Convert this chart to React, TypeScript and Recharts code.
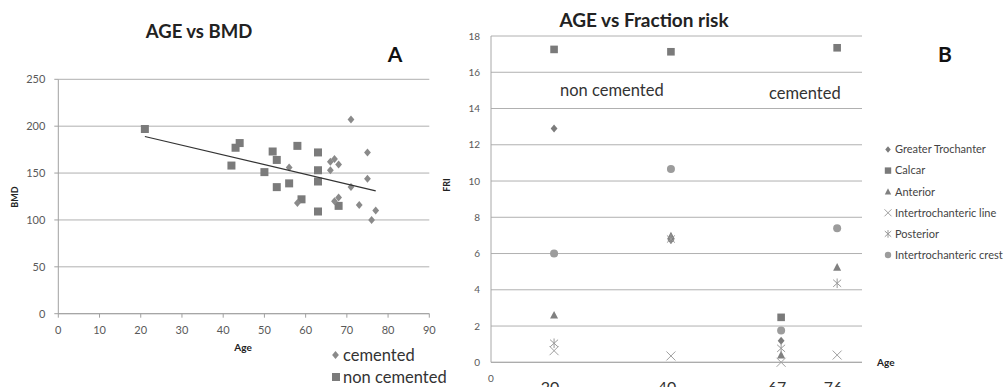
import React from 'react';
import { ScatterChart, Scatter, XAxis, YAxis, CartesianGrid } from 'recharts';

// ---- Chart A: AGE vs BMD ----
const cementedAge = [71, 75, 75, 56, 66, 67, 68, 66, 71, 58, 67, 68, 73, 77, 76];
const cementedBmd = [207, 172, 144, 156, 162, 165, 159, 153, 135, 118, 120, 124, 116, 110, 100];
const nonCementedAge = [21, 42, 43, 44, 50, 52, 53, 53, 56, 58, 59, 63, 63, 63, 63, 68];
const nonCementedBmd = [197, 158, 177, 182, 151, 173, 164, 135, 139, 179, 122, 172, 153, 141, 109, 115];
const trendAge = [21, 77];
const trendBmd = [189, 131];
const bmdXTicks = [0, 10, 20, 30, 40, 50, 60, 70, 80, 90];
const bmdYTicks = [0, 50, 100, 150, 200, 250];
const bmdLegend = ['cemented', 'non cemented'];

// ---- Chart B: AGE vs Fraction risk ----
const friAgeLabels = ['20', '40', '67', '76'];
const friAgeX = [17, 48.5, 78.2, 93.3];
const friYTicks = [0, 2, 4, 6, 8, 10, 12, 14, 16, 18];
const greaterTrochanter = [12.9, 6.75, 1.19, null];
const calcar = [17.26, 17.13, 2.48, 17.35];
const anterior = [2.6, 6.97, 0.4, 5.24];
const intertrochantericLine = [0.64, 0.35, 0.0, 0.4];
const posterior = [1.05, 6.8, 0.77, 4.36];
const intertrochantericCrest = [6.0, 10.66, 1.76, 7.39];
const friSeriesNames = [
  'Greater Trochanter',
  'Calcar',
  'Anterior',
  'Intertrochanteric line',
  'Posterior',
  'Intertrochanteric crest',
];

const FONT = 'Lato, "Open Sans", sans-serif';

type Kind = 'diamond' | 'square' | 'triangle' | 'x' | 'asterisk' | 'circle';

function marker(kind: Kind, cx: number, cy: number, color: string, r: number, key?: string) {
  switch (kind) {
    case 'diamond':
      return (
        <path key={key} d={`M${cx},${cy - r}L${cx + r * 0.85},${cy}L${cx},${cy + r}L${cx - r * 0.85},${cy}Z`} fill={color} />
      );
    case 'square':
      return <rect key={key} x={cx - r} y={cy - r} width={2 * r} height={2 * r} fill={color} />;
    case 'triangle':
      return <path key={key} d={`M${cx},${cy - r * 1.05}L${cx + r},${cy + r * 0.85}L${cx - r},${cy + r * 0.85}Z`} fill={color} />;
    case 'circle':
      return <circle key={key} cx={cx} cy={cy} r={r} fill={color} />;
    case 'x':
      return (
        <g key={key} stroke={color} strokeWidth={1}>
          <line x1={cx - r} y1={cy - r} x2={cx + r} y2={cy + r} />
          <line x1={cx - r} y1={cy + r} x2={cx + r} y2={cy - r} />
        </g>
      );
    case 'asterisk':
      return (
        <g key={key} stroke={color} strokeWidth={1}>
          <line x1={cx - r} y1={cy - r * 0.9} x2={cx + r} y2={cy + r * 0.9} />
          <line x1={cx - r} y1={cy + r * 0.9} x2={cx + r} y2={cy - r * 0.9} />
          <line x1={cx} y1={cy - r * 1.2} x2={cx} y2={cy + r * 1.2} />
        </g>
      );
  }
  return null;
}

const shapeOf = (kind: Kind, color: string, r: number) => (props: any) => {
  if (props.cx == null || props.cy == null) return <g />;
  return marker(kind, props.cx, props.cy, color, r);
};

const zip = (xs: number[], ys: (number | null)[]) =>
  xs.map((x, i) => ({ x, y: ys[i] })).filter((d) => d.y != null);

const cementedData = zip(cementedAge, cementedBmd);
const nonCementedData = zip(nonCementedAge, nonCementedBmd);
const trendData = zip(trendAge, trendBmd);

const friSeries: { name: string; values: (number | null)[]; kind: Kind; color: string; r: number }[] = [
  { name: friSeriesNames[0], values: greaterTrochanter, kind: 'diamond', color: '#7c7c7c', r: 4 },
  { name: friSeriesNames[1], values: calcar, kind: 'square', color: '#7a7a7a', r: 3.8 },
  { name: friSeriesNames[2], values: anterior, kind: 'triangle', color: '#808080', r: 4 },
  { name: friSeriesNames[3], values: intertrochantericLine, kind: 'x', color: '#a0a0a0', r: 4.5 },
  { name: friSeriesNames[4], values: posterior, kind: 'asterisk', color: '#9a9a9a', r: 4 },
  { name: friSeriesNames[5], values: intertrochantericCrest, kind: 'circle', color: '#9c9c9c', r: 4 },
];

const tickStyle = { fontFamily: FONT, fontSize: 11, fill: '#595959' };

const FriXTick = (props: any) => {
  const { x, y, index } = props;
  if (index === 0) {
    return (
      <text x={x} y={y + 20} textAnchor="middle" fontFamily={FONT} fontSize={10} fill="#595959">
        0
      </text>
    );
  }
  return (
    <text x={x - 4} y={y + 31} textAnchor="middle" fontFamily={FONT} fontSize={16} fill="#333">
      {friAgeLabels[index - 1]}
    </text>
  );
};

export default function App() {
  return (
    <div style={{ position: 'absolute', left: 0, top: 0, width: 1006, height: 387, background: '#fff', overflow: 'hidden' }}>
      <div style={{ position: 'absolute', left: 0, top: 0 }}>
        <ScatterChart width={450} height={387} margin={{ top: 79.3, right: 20.7, bottom: 43.3, left: 18.3 }}>
          <CartesianGrid vertical={false} stroke="#b0b0b0" />
          <XAxis
            type="number"
            dataKey="x"
            domain={[0, 90]}
            ticks={bmdXTicks}
            interval={0}
            height={30}
            tickSize={4}
            tickMargin={8}
            stroke="#a0a0a0"
            tick={tickStyle}
          />
          <YAxis
            type="number"
            dataKey="y"
            domain={[0, 250]}
            ticks={bmdYTicks}
            interval={0}
            width={40}
            tickSize={4}
            tickMargin={9}
            stroke="#a0a0a0"
            tick={tickStyle}
          />
          <Scatter data={nonCementedData} shape={shapeOf('square', '#7b7b7b', 4)} isAnimationActive={false} />
          <Scatter data={cementedData} shape={shapeOf('diamond', '#8a8a8a', 4)} isAnimationActive={false} />
          <Scatter
            data={trendData}
            line={{ stroke: '#333', strokeWidth: 1.2 }}
            lineType="joint"
            shape={() => <g />}
            isAnimationActive={false}
          />
        </ScatterChart>
      </div>

      <div style={{ position: 'absolute', left: 440, top: 0 }}>
        <ScatterChart width={566} height={387} margin={{ top: 36, right: 144, bottom: 0.7, left: 11 }}>
          <CartesianGrid vertical={false} stroke="#b0b0b0" />
          <XAxis
            type="number"
            dataKey="x"
            domain={[0, 100]}
            ticks={[0, ...friAgeX]}
            interval={0}
            height={24}
            tickLine={false}
            tickSize={0}
            tickMargin={0}
            stroke="#a8a8a8"
            tick={<FriXTick />}
          />
          <YAxis
            type="number"
            dataKey="y"
            domain={[0, 18]}
            ticks={friYTicks}
            interval={0}
            width={40}
            tickLine={false}
            tickSize={0}
            tickMargin={11}
            stroke="#a8a8a8"
            tick={{ ...tickStyle, fontSize: 10 }}
          />
          {friSeries.map((s) => (
            <Scatter
              key={s.name}
              name={s.name}
              data={zip(friAgeX, s.values)}
              shape={shapeOf(s.kind, s.color, s.r)}
              isAnimationActive={false}
            />
          ))}
        </ScatterChart>
      </div>

      <svg width={1006} height={387} style={{ position: 'absolute', left: 0, top: 0, pointerEvents: 'none' }}>
        <g fontFamily={FONT}>
          {/* Chart A texts */}
          <text x={199} y={37.5} textAnchor="middle" fontSize={18.5} fontWeight="bold" fill="#222">AGE vs BMD</text>
          <text x={395} y={62} textAnchor="middle" fontSize={21} fontWeight="bold" fill="#111">A</text>
          <text x={243} y={351} textAnchor="middle" fontSize={10} fontWeight="bold" fill="#222">Age</text>
          <text transform="translate(18,197) rotate(-90)" textAnchor="middle" fontSize={9} fontWeight="bold" fill="#222">BMD</text>
          {marker('diamond', 335.5, 355, '#8a8a8a', 4)}
          <text x={343} y={360.5} fontSize={16.5} fill="#333">{bmdLegend[0]}</text>
          {marker('square', 336, 377, '#7b7b7b', 4)}
          <text x={343} y={382.5} fontSize={16.5} fill="#333">{bmdLegend[1]}</text>

          {/* Chart B texts */}
          <text x={644} y={26.5} textAnchor="middle" fontSize={19} fontWeight="bold" fill="#222">AGE vs Fraction risk</text>
          <text x={945} y={62} textAnchor="middle" fontSize={21} fontWeight="bold" fill="#111">B</text>
          <text x={560} y={95.5} fontSize={16.5} fill="#333">non cemented</text>
          <text x={769} y={98.5} fontSize={16.5} fill="#333">cemented</text>
          <text transform="translate(450,185) rotate(-90)" textAnchor="middle" fontSize={9} fontWeight="bold" fill="#222">FRI</text>
          <text x={877} y={365.5} fontSize={10} fontWeight="bold" fill="#222">Age</text>
          {friSeries.map((s, i) => {
            const y = 149.5 + i * 21.1;
            return (
              <g key={s.name}>
                {marker(s.kind, 888, y, s.color, s.kind === 'x' ? 3.5 : 3.2)}
                <text x={895} y={y + 3.8} fontSize={11} fill="#444">{s.name}</text>
              </g>
            );
          })}
        </g>
      </svg>
    </div>
  );
}
